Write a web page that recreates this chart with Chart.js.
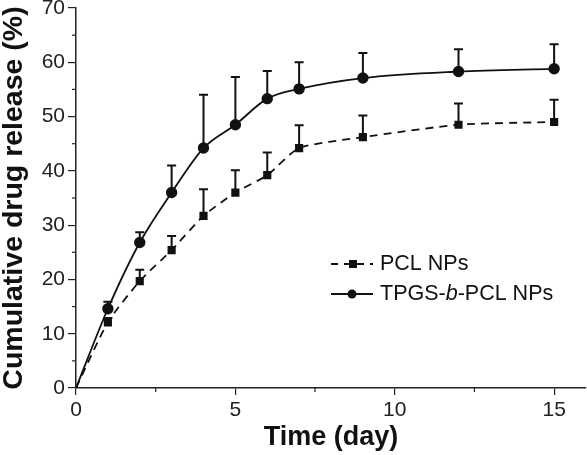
<!DOCTYPE html>
<html>
<head>
<meta charset="utf-8">
<script src="https://cdn.jsdelivr.net/npm/chart.js@4"></script>
<style>
  html, body { margin: 0; padding: 0; background: #fff; }
  #wrap { width: 587px; height: 455px; position: relative; }
</style>
</head>
<body>
<div id="wrap"><canvas id="chart"></canvas></div>
<script>
// Días de muestreo
const days = [0, 1, 2, 3, 4, 5, 6, 7, 9, 12, 15];

// Liberación acumulada (%) y error superior (SD)
const pclRelease = [0, 12.1, 19.7, 25.4, 31.7, 36.0, 39.2, 44.2, 46.2, 48.5, 49.0];
const pclError   = [0, 0.8, 2.1, 2.6, 4.9, 4.1, 4.2, 4.2, 4.0, 3.9, 4.1];

const tpgsRelease = [0, 14.6, 26.8, 36.0, 44.2, 48.5, 53.3, 55.1, 57.1, 58.3, 58.8];
const tpgsError   = [0, 1.3, 1.9, 5.0, 9.8, 8.8, 5.1, 4.9, 4.6, 4.1, 4.5];

const yTicks = [0, 10, 20, 30, 40, 50, 60, 70];
const xTicks = [0, 5, 10, 15];

const FONT = '"Liberation Sans", Arial, sans-serif';

function toPoints(ys) {
  return days.map((d, i) => ({ x: d, y: ys[i] }));
}

// sin relleno automático: el área del gráfico la fija el layout
function noPadding(s) {
  s.paddingLeft = 0;
  s.paddingRight = 0;
  s.paddingTop = 0;
  s.paddingBottom = 0;
}

/**
 * Barras de error (solo hacia arriba), ticks menores y leyenda
 */
const extrasPlugin = {
  id: 'extras',
  afterDatasetsDraw(chart) {
    const { ctx, scales: { x, y } } = chart;
    ctx.save();
    ctx.strokeStyle = '#111';
    ctx.lineWidth = 2;
    const sets = [[pclRelease, pclError], [tpgsRelease, tpgsError]];
    sets.forEach(([vals, errs]) => {
      days.forEach((d, i) => {
        if (!errs[i]) return;
        const px = x.getPixelForValue(d);
        const py = y.getPixelForValue(vals[i]);
        const pt = y.getPixelForValue(vals[i] + errs[i]);
        ctx.beginPath();
        ctx.moveTo(px, py);
        ctx.lineTo(px, pt);
        ctx.moveTo(px - 4.5, pt);
        ctx.lineTo(px + 4.5, pt);
        ctx.stroke();
      });
    });

    // ticks menores
    ctx.lineWidth = 1.2;
    ctx.strokeStyle = '#222';
    for (let v = 5; v < 70; v += 10) {
      const py = y.getPixelForValue(v);
      ctx.beginPath();
      ctx.moveTo(y.right - 4, py);
      ctx.lineTo(y.right, py);
      ctx.stroke();
    }
    for (let v = 2.5; v < 16; v += 5) {
      const px = x.getPixelForValue(v);
      ctx.beginPath();
      ctx.moveTo(px, x.top);
      ctx.lineTo(px, x.top + 4);
      ctx.stroke();
    }

    // leyenda
    const lx = 331, rows = [264, 294];
    ctx.fillStyle = '#111';
    ctx.strokeStyle = '#111';
    ctx.lineWidth = 2;
    // PCL NPs
    ctx.setLineDash([7, 6]);
    ctx.beginPath();
    ctx.moveTo(lx, rows[0]);
    ctx.lineTo(lx + 42, rows[0]);
    ctx.stroke();
    ctx.setLineDash([]);
    ctx.fillRect(lx + 18, rows[0] - 4, 8, 8);
    // TPGS-b-PCL NPs
    ctx.beginPath();
    ctx.moveTo(lx, rows[1]);
    ctx.lineTo(lx + 42, rows[1]);
    ctx.stroke();
    ctx.beginPath();
    ctx.arc(lx + 21, rows[1], 4.5, 0, Math.PI * 2);
    ctx.fill();

    ctx.textBaseline = 'middle';
    ctx.textAlign = 'left';
    ctx.font = '21.5px ' + FONT;
    ctx.fillText('PCL NPs', 380, rows[0]);
    let tx = 380;
    const parts = [['TPGS-', ''], ['b', 'italic '], ['-PCL NPs', '']];
    parts.forEach(([t, style]) => {
      ctx.font = style + '21.5px ' + FONT;
      ctx.fillText(t, tx, rows[1]);
      tx += ctx.measureText(t).width;
    });
    ctx.restore();
  }
};

new Chart(document.getElementById('chart'), {
  type: 'line',
  data: {
    datasets: [
      {
        label: 'PCL NPs',
        data: toPoints(pclRelease),
        borderColor: '#111',
        backgroundColor: '#111',
        borderWidth: 1.8,
        borderDash: [8, 6],
        pointStyle: 'rect',
        pointRadius: days.map(d => d === 0 ? 0 : 4.5),
        tension: 0.2
      },
      {
        label: 'TPGS-b-PCL NPs',
        data: toPoints(tpgsRelease),
        borderColor: '#111',
        backgroundColor: '#111',
        borderWidth: 1.8,
        pointStyle: 'circle',
        pointRadius: days.map(d => d === 0 ? 1.5 : 4.8),
        cubicInterpolationMode: 'monotone'
      }
    ]
  },
  options: {
    responsive: true,
    maintainAspectRatio: false,
    animation: false,
    layout: { autoPadding: false, padding: { top: 8, right: 1, left: 0, bottom: 0 } },
    plugins: { legend: { display: false }, tooltip: { enabled: false } },
    scales: {
      x: {
        type: 'linear',
        min: 0,
        max: 16,
        afterBuildTicks: s => { s.ticks = xTicks.map(v => ({ value: v })); },
        afterFit: s => { s.height = 67; noPadding(s); },
        grid: { drawOnChartArea: false, drawTicks: true, tickLength: 7, color: '#222', lineWidth: 1.2 },
        border: { color: '#222', width: 1.5 },
        ticks: { color: '#222', font: { family: FONT, size: 21 }, padding: 3, maxRotation: 0 },
        title: {
          display: true,
          text: 'Time (day)',
          color: '#111',
          font: { family: FONT, size: 27, weight: 'bold', lineHeight: 1 },
          padding: { top: 0, bottom: 3.5 }
        }
      },
      y: {
        min: 0,
        max: 70,
        afterBuildTicks: s => { s.ticks = yTicks.map(v => ({ value: v })); },
        afterFit: s => { s.width = 76; noPadding(s); },
        grid: { drawOnChartArea: false, drawTicks: true, tickLength: 8, color: '#222', lineWidth: 1.2 },
        border: { color: '#222', width: 1.5 },
        ticks: { color: '#222', font: { family: FONT, size: 21 }, padding: 3 },
        title: {
          display: true,
          text: 'Cumulative drug release (%)',
          color: '#111',
          font: { family: FONT, size: 28.5, weight: 'bold', lineHeight: 1 },
          padding: { top: 0, bottom: 0 }
        }
      }
    }
  },
  plugins: [extrasPlugin]
});
</script>
</body>
</html>
